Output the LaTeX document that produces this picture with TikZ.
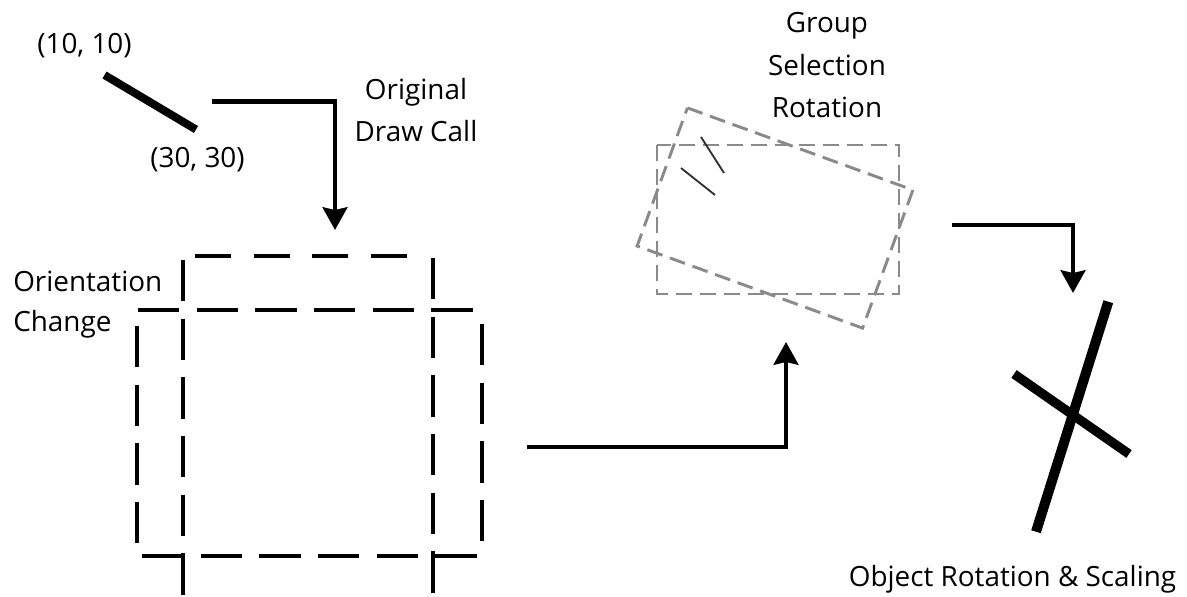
\documentclass[tikz,border=0pt]{standalone}
\usepackage{fontspec}
\setmainfont{Open Sans}
\usetikzlibrary{arrows.meta}
\definecolor{selgray}{RGB}{138,138,138}
\definecolor{inkgray}{RGB}{50,50,50}
\begin{document}
\begin{tikzpicture}[x=0.75pt,y=-0.75pt,
  lbl/.style={inner sep=0pt, font=\fontsize{20.9pt}{31.5pt}\selectfont},
  conn/.style={line width=3.2pt, line join=miter, -{Stealth[length=17pt,width=18.5pt,inset=2pt]}},
  sqbox/.style={draw, line width=2.4pt, dash pattern=on 31pt off 13pt},
  sqtop/.style={draw, line width=2.4pt, dash pattern=on 27pt off 17pt},
  selbox/.style={draw=selgray, line width=2.2pt, dash pattern=on 12pt off 6pt},
  thickseg/.style={line width=6pt},
  crossseg/.style={line width=7.5pt}]
\useasboundingbox (0,0) rectangle (1187,596);

% original draw call segment
\coordinate (segA) at (104.5,75);
\coordinate (segB) at (196,129.5);
\draw[thickseg] (segA) -- (segB);
\node[lbl, anchor=base] (p1) at (84.5,53) {(10, 10)};
\node[lbl, anchor=base] (p2) at (197.5,167) {(30, 30)};
\node[lbl, align=center, font=\fontsize{20.9pt}{31.5pt}\selectfont] (orig) at (416,110.5) {Original\\Draw Call};

% arrow 1
\coordinate (a1s) at (212,101.5);
\coordinate (a1e) at (335,230);
\draw[conn] (a1s) -| (a1e);

% orientation change: portrait frame
\draw[sqtop] (195,256) -- (425,256);
\draw[sqbox] (183,260) -- (183,606);
\draw[sqbox] (433,258) -- (433,606);
% landscape frame
\draw[sqbox] (138,310) -- (480,310);
\draw[sqbox] (142,556) -- (484,556);
\draw[sqbox] (137,326) -- (137,556);
\draw[sqbox] (482,324) -- (482,556);
\node[lbl, align=left, anchor=west, font=\fontsize{20.9pt}{30pt}\selectfont] (orient) at (13,305) {Orientation\\Change};

% arrow 2
\coordinate (a2s) at (527,447);
\coordinate (a2e) at (786,342);
\draw[conn] (a2s) -| (a2e);

% group selection rotation
\draw[selbox] (657,145) rectangle (899,294);
\draw[selbox] (687.4,107.9) -- (912.9,190.0) -- (862.6,328.1) -- (637.1,246.0) -- cycle;
\draw[inkgray, line width=1.4pt] (701,137) -- (724,173);
\draw[inkgray, line width=1.4pt] (681,168) -- (715,195);
\node[lbl, align=center, font=\fontsize{20.9pt}{31.9pt}\selectfont] (grp) at (827,65.5) {Group\\Selection\\Rotation};

% arrow 3
\coordinate (a3s) at (952,225);
\coordinate (a3e) at (1073,293);
\draw[conn] (a3s) -| (a3e);

% object rotation & scaling
\draw[crossseg] (1108.3,301.7) -- (1036,531.7);
\draw[crossseg, line width=7pt] (1014,374) -- (1129,454);
\node[lbl, anchor=base] (obj) at (1012.5,586) {Object Rotation \& Scaling};
\end{tikzpicture}
\end{document}
